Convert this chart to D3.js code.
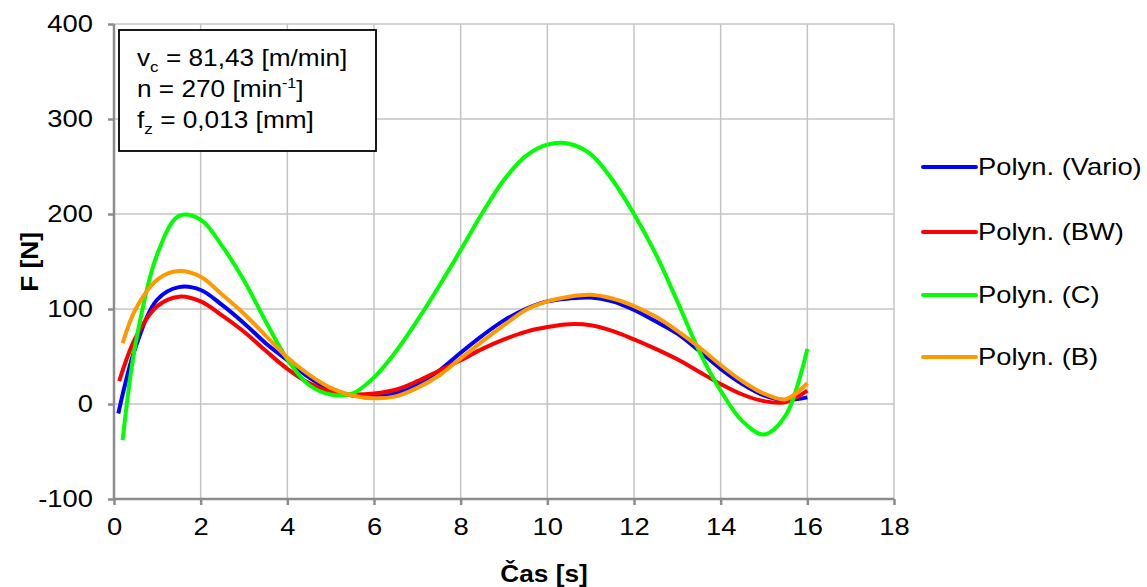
<!DOCTYPE html>
<html>
<head>
<meta charset="utf-8">
<script src="https://cdn.jsdelivr.net/npm/d3@7/dist/d3.min.js"></script>
<style>
  html, body { margin: 0; padding: 0; background: #fff; }
  svg { display: block; font-family: "Liberation Sans", Arial, Helvetica, sans-serif; }
</style>
</head>
<body>
<svg id="chart" width="1147" height="587"></svg>
<script>
// ---- data ----
const seriesNames = ["Polyn. (Vario)", "Polyn. (BW)", "Polyn. (C)", "Polyn. (B)"];
const seriesColors = ["#0000ff", "#ff0000", "#00ff00", "#ff9900"];

const timeGrid = [0.5, 1, 1.5, 2, 2.5, 3, 3.5, 4, 4.5, 5, 5.5, 6, 6.5, 7, 7.5, 8, 8.5, 9, 9.5, 10, 10.5, 11, 11.5, 12, 12.5, 13, 13.5, 14, 14.5, 15, 15.5, 16];
const startTimes = [0.1, 0.12, 0.2, 0.2];
const startValues = [-10, 24, -38, 64];

const vario = [60, 110, 123, 120, 104, 85, 64, 46, 28, 15, 9, 8, 11, 20, 35, 54, 72, 88, 100, 108, 111, 112, 108, 99, 87, 74, 56, 37, 21, 9, 4, 7];
const bw    = [70, 103, 113, 108, 93, 76, 56, 37, 22, 13, 10, 11, 15, 24, 35, 46, 58, 68, 76, 81, 84, 83, 77, 68, 58, 47, 34, 21, 10, 3, 2, 14];
const c     = [64, 158, 198, 194, 166, 130, 87, 47, 20, 10, 11, 28, 55, 88, 124, 162, 201, 236, 261, 273, 274, 263, 236, 200, 158, 108, 56, 14, -18, -32, -12, 58];
const b     = [100, 131, 140, 134, 115, 95, 72, 49, 31, 17, 9, 6, 8, 17, 30, 48, 66, 83, 99, 108, 113, 115, 111, 103, 92, 77, 60, 41, 24, 11, 5, 22];
const seriesValues = [vario, bw, c, b];

const xTicks = [0, 2, 4, 6, 8, 10, 12, 14, 16, 18];
const yTicks = [-100, 0, 100, 200, 300, 400];
const infoLines = [
  {main: "v", sub: "c", rest: " = 81,43 [m/min]"},
  {main: "n = 270 [min", sup: "-1", rest: "]"},
  {main: "f", sub: "z", rest: " = 0,013 [mm]"}
];

// ---- layout ----
const STRETCH = 1.14;
const svg = d3.select("#chart");
const L = 114, R = 894, T = 24, B = 499;
const x = d3.scaleLinear().domain([0, 18]).range([L, R]);
const y = d3.scaleLinear().domain([-100, 400]).range([B, T]);

function widen(sel) {
  sel.each(function () {
    const w = this.getComputedTextLength();
    d3.select(this).attr("textLength", w * STRETCH).attr("lengthAdjust", "spacingAndGlyphs");
  });
}

// gridlines
const grid = svg.append("g");
grid.selectAll("line.v").data(xTicks.slice(1)).enter().append("line")
  .attr("x1", d => x(d)).attr("x2", d => x(d)).attr("y1", T).attr("y2", B)
  .attr("stroke", "#c4c4c4").attr("stroke-width", 1.5);
grid.selectAll("line.h").data(yTicks.slice(1)).enter().append("line")
  .attr("x1", L).attr("x2", R).attr("y1", d => y(d)).attr("y2", d => y(d))
  .attr("stroke", "#c4c4c4").attr("stroke-width", 1.5);

// axes
const xAxis = d3.axisBottom(x).tickValues(xTicks).tickSize(6).tickPadding(13).tickFormat(d => String(d));
const yAxis = d3.axisLeft(y).tickValues(yTicks).tickSize(6).tickPadding(15).tickFormat(d => String(d));
const gx = svg.append("g").attr("transform", `translate(0,${B})`).call(xAxis);
const gy = svg.append("g").attr("transform", `translate(${L},0)`).call(yAxis);
[gx, gy].forEach(g => {
  g.select(".domain").attr("stroke", "#8c8c8c").attr("stroke-width", 2.5);
  g.selectAll(".tick line").attr("stroke", "#8c8c8c").attr("stroke-width", 2.5);
  g.selectAll(".tick text").attr("fill", "#000").style("font-size", "24px")
    .style("font-family", "'Liberation Sans', Arial, sans-serif");
  widen(g.selectAll(".tick text"));
});
gy.select(".domain").attr("d", `M0,${T}V${B}`);
gx.select(".domain").attr("d", `M${L},0H${R}`);
gx.selectAll(".tick text").attr("dy", "0.71em");

// axis titles
const xt = svg.append("text").attr("x", 544).attr("y", 582).attr("text-anchor", "middle")
  .style("font-size", "23px").style("font-weight", "bold").text("Čas [s]");
widen(xt);
const yt = svg.append("text").attr("transform", "translate(38,262) rotate(-90)").attr("text-anchor", "middle")
  .style("font-size", "23px").style("font-weight", "bold").text("F [N]");
widen(yt);

// curves
const line = d3.line().x(d => x(d[0])).y(d => y(d[1])).curve(d3.curveCatmullRom.alpha(0.5));
const curves = svg.append("g");
seriesValues.forEach((vals, i) => {
  const pts = [[startTimes[i], startValues[i]]].concat(timeGrid.map((t, j) => [t, vals[j]]));
  curves.append("path").attr("d", line(pts)).attr("fill", "none")
    .attr("stroke", seriesColors[i]).attr("stroke-width", 4).attr("stroke-linecap", "butt");
});

// info box
svg.append("rect").attr("x", 119).attr("y", 30).attr("width", 257).attr("height", 121)
  .attr("fill", "#fff").attr("stroke", "#000").attr("stroke-width", 1.8);
infoLines.forEach((ln, i) => {
  const t = svg.append("text").attr("transform", `translate(137,${66 + i * 31}) scale(${STRETCH},1)`)
    .style("font-size", "23px");
  t.append("tspan").text(ln.main);
  if (ln.sub) t.append("tspan").attr("dy", 6).style("font-size", "15px").text(ln.sub);
  if (ln.sup) t.append("tspan").attr("dy", -9).style("font-size", "14px").text(ln.sup);
  t.append("tspan").attr("dy", ln.sub ? -6 : (ln.sup ? 9 : 0)).text(ln.rest);
});

// legend
const legend = svg.append("g");
const legendY = [167, 232, 295, 357];
seriesNames.forEach((name, i) => {
  legend.append("line").attr("x1", 923).attr("x2", 976).attr("y1", legendY[i]).attr("y2", legendY[i])
    .attr("stroke", seriesColors[i]).attr("stroke-width", 4).attr("stroke-linecap", "round");
  const lt = legend.append("text").attr("x", 978).attr("y", legendY[i] + 8).style("font-size", "24px").text(name);
  widen(lt);
});
</script>
</body>
</html>
